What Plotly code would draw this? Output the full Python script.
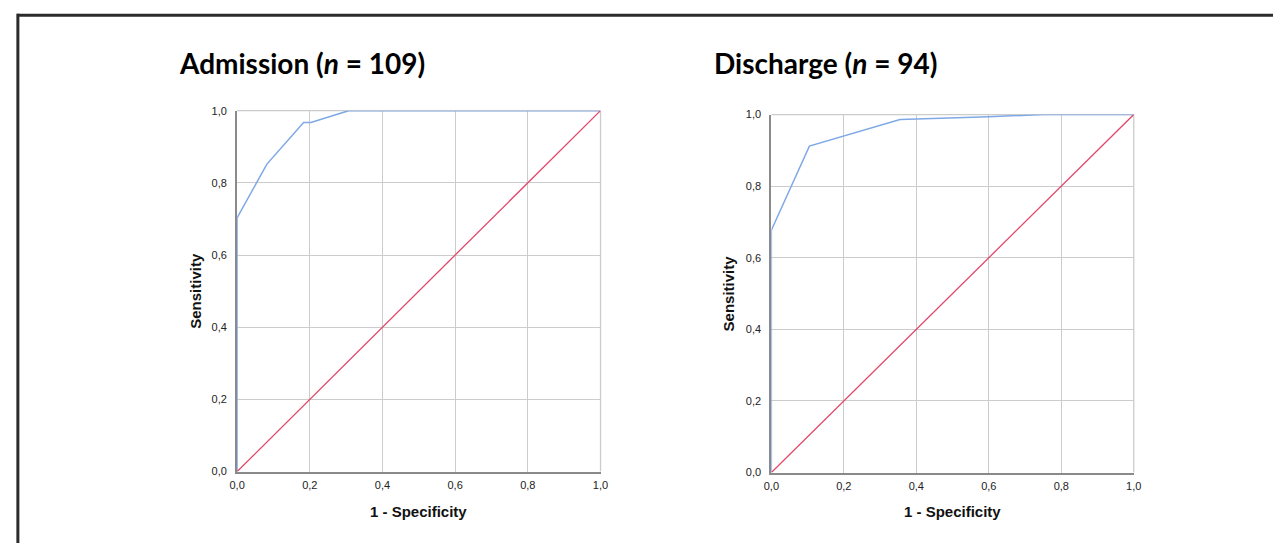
import plotly.graph_objects as go

W, H = 1281, 549

# ROC data
adm_fpr = [0.0, 0.0, 0.082, 0.183, 0.203, 0.307, 1.0]
adm_tpr = [0.0, 0.703, 0.852, 0.967, 0.967, 1.0, 1.0]
dis_fpr = [0.0, 0.0, 0.105, 0.355, 0.6, 0.75, 1.0]
dis_tpr = [0.0, 0.677, 0.912, 0.986, 0.994, 1.0, 1.0]
ref_line = [0.0, 1.0]

titles = ["Admission (<i>n</i> = 109)", "Discharge (<i>n</i> = 94)"]
x_title = "1 - Specificity"
y_title = "Sensitivity"
ticks = [0.0, 0.2, 0.4, 0.6, 0.8, 1.0]

BLUE = "#7fa9e6"
RED = "#e2466a"
GRID = "#cccccc"
AXIS = "#8a8a8a"

def px_x(p):
    return p / W

def px_y(p):
    return (H - p) / H

panels = [
    dict(x0=232, x1=600, y0=476, y1=107),
    dict(x0=773, x1=1140, y0=477, y1=111),
]

fig = go.Figure()
fig.add_trace(go.Scatter(x=adm_fpr, y=adm_tpr, mode="lines", line=dict(color=BLUE, width=1.5),
                         xaxis="x", yaxis="y", showlegend=False, hoverinfo="skip"))
fig.add_trace(go.Scatter(x=ref_line, y=ref_line, mode="lines", line=dict(color=RED, width=1.3),
                         xaxis="x", yaxis="y", showlegend=False, hoverinfo="skip"))
fig.add_trace(go.Scatter(x=dis_fpr, y=dis_tpr, mode="lines", line=dict(color=BLUE, width=1.5),
                         xaxis="x2", yaxis="y2", showlegend=False, hoverinfo="skip"))
fig.add_trace(go.Scatter(x=ref_line, y=ref_line, mode="lines", line=dict(color=RED, width=1.3),
                         xaxis="x2", yaxis="y2", showlegend=False, hoverinfo="skip"))

tickfont = dict(family="Liberation Sans, Arial, sans-serif", size=11, color="#222222")
layout = dict(
    width=W, height=H,
    margin=dict(l=0, r=0, t=0, b=0),
    paper_bgcolor="white", plot_bgcolor="white",
    separators=",.",
    showlegend=False,
)
annotations = []
shapes = []
for i, p in enumerate(panels):
    sfx = "" if i == 0 else str(i + 1)
    xd = [px_x(p["x0"]), px_x(p["x1"])]
    yd = [px_y(p["y0"]), px_y(p["y1"])]
    layout["xaxis" + sfx] = dict(
        domain=xd, range=[0, 1], tickvals=ticks, tickformat=".1f",
        showgrid=True, gridcolor=GRID, gridwidth=1.3,
        zeroline=False, showline=True, linecolor=AXIS, linewidth=2,
        ticks="", tickfont=tickfont, ticklabelstandoff=2, anchor="y" + sfx, fixedrange=True,
    )
    layout["yaxis" + sfx] = dict(
        domain=yd, range=[0, 1], tickvals=ticks, tickformat=".1f",
        showgrid=True, gridcolor=GRID, gridwidth=1.3,
        zeroline=False, showline=True, linecolor=AXIS, linewidth=2,
        ticks="", tickfont=tickfont, ticklabelstandoff=6, anchor="x" + sfx, fixedrange=True,
    )
    # top and right boundary grid lines
    shapes.append(dict(type="line", xref="x" + sfx + " domain", yref="y" + sfx + " domain",
                       x0=0, x1=1, y0=1, y1=1, line=dict(color=GRID, width=1.3), layer="below"))
    shapes.append(dict(type="line", xref="x" + sfx + " domain", yref="y" + sfx + " domain",
                       x0=1, x1=1, y0=0, y1=1, line=dict(color=GRID, width=1.3), layer="below"))
    annotations.append(dict(text="<b>" + x_title + "</b>", x=(xd[0] + xd[1]) / 2, y=px_y(517),
                            xref="paper", yref="paper", showarrow=False, xanchor="center", yanchor="middle",
                            font=dict(family="Liberation Sans, Arial, sans-serif", size=15, color="#111111")))
    annotations.append(dict(text="<b>" + y_title + "</b>", x=px_x(p["x0"] - 43), y=(yd[0] + yd[1]) / 2,
                            xref="paper", yref="paper", showarrow=False, textangle=-90,
                            xanchor="center", yanchor="middle",
                            font=dict(family="Liberation Sans, Arial, sans-serif", size=15, color="#111111")))

title_pos = [(171, 58), (713, 58)]
for t, (tx, ty) in zip(titles, title_pos):
    annotations.append(dict(text="<b>" + t + "</b>", x=px_x(tx), y=px_y(ty), xref="paper", yref="paper",
                            showarrow=False, xanchor="left", yanchor="middle",
                            font=dict(family="Lato, Open Sans, sans-serif", size=28, color="#000000")))

# outer frame (top and left edges visible)
shapes.append(dict(type="line", xref="paper", yref="paper", x0=px_x(9), x1=1.0, y0=px_y(9.5), y1=px_y(9.5),
                   line=dict(color="#2b2b2b", width=3)))
shapes.append(dict(type="line", xref="paper", yref="paper", x0=px_x(10), x1=px_x(10), y0=px_y(8), y1=0,
                   line=dict(color="#2b2b2b", width=3)))

layout["annotations"] = annotations
layout["shapes"] = shapes
fig.update_layout(**layout)
fig.write_html("out.html", config={"displayModeBar": False},
               post_script="document.body.style.margin='0';document.body.style.padding='0';"
                           "document.body.style.overflow='hidden';"
                           "document.documentElement.style.overflow='hidden';")
